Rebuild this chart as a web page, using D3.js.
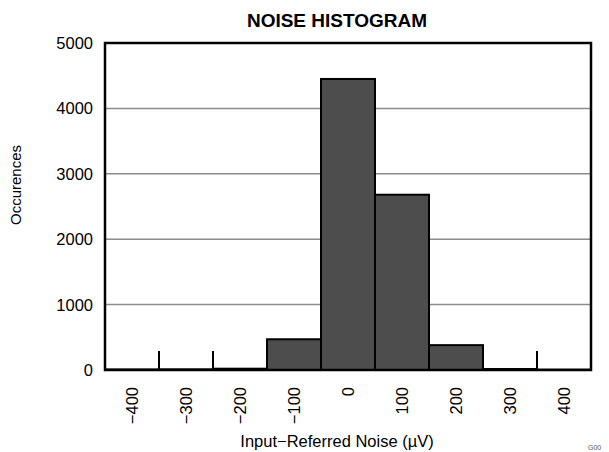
<!DOCTYPE html>
<html lang="en">
<head>
<meta charset="UTF-8">
<title>Noise Histogram</title>
<script src="https://d3js.org/d3.v7.min.js"></script>
<style>
    body { margin: 0; background: #fff; }
    svg text { font-family: "Liberation Sans", Arial, sans-serif; fill: #000; }
</style>
</head>
<body>
<div id="chart"></div>
<script>
// histogram bins (bin centres, µV) and counts
const binCenters = [-400, -300, -200, -100, 0, 100, 200, 300, 400];
const counts = [8, 10, 20, 470, 4450, 2680, 380, 15, 5];
const yTicks = [0, 1000, 2000, 3000, 4000, 5000];
const binWidth = 100;

const width = 609, height = 452;
const margin = { left: 105, right: 18, top: 43, bottom: 82 };

const svg = d3.select("#chart").append("svg")
    .attr("width", width)
    .attr("height", height);

const x = d3.scaleLinear()
    .domain([-450, 450])
    .range([margin.left, width - margin.right]);

const y = d3.scaleLinear()
    .domain([0, 5000])
    .range([height - margin.bottom, margin.top]);

// grid lines
svg.append("g")
    .selectAll("line")
    .data(yTicks.filter(d => d > 0 && d < 5000))
    .join("line")
    .attr("x1", x.range()[0])
    .attr("x2", x.range()[1])
    .attr("y1", d => y(d))
    .attr("y2", d => y(d))
    .attr("stroke", "#8c8c8c")
    .attr("stroke-width", 1.5);

// inward ticks at bin edges
const edges = binCenters.slice(1).map(d => d - binWidth / 2);
svg.append("g")
    .selectAll("line")
    .data(edges)
    .join("line")
    .attr("x1", d => x(d))
    .attr("x2", d => x(d))
    .attr("y1", y(0))
    .attr("y2", y(0) - 19)
    .attr("stroke", "#000")
    .attr("stroke-width", 2);

// bars
svg.append("g")
    .selectAll("rect")
    .data(binCenters)
    .join("rect")
    .attr("x", d => x(d - binWidth / 2))
    .attr("width", d => x(d + binWidth / 2) - x(d - binWidth / 2))
    .attr("y", (d, i) => y(counts[i]))
    .attr("height", (d, i) => y(0) - y(counts[i]))
    .attr("fill", "#4d4d4d")
    .attr("stroke", "#000")
    .attr("stroke-width", 2);

// frame
svg.append("rect")
    .attr("x", x.range()[0])
    .attr("y", y.range()[1])
    .attr("width", x.range()[1] - x.range()[0])
    .attr("height", y.range()[0] - y.range()[1])
    .attr("fill", "none")
    .attr("stroke", "#000")
    .attr("stroke-width", 2.5);

// y tick labels
svg.append("g")
    .selectAll("text")
    .data(yTicks)
    .join("text")
    .attr("x", margin.left - 12)
    .attr("y", d => y(d))
    .attr("dy", "0.36em")
    .attr("text-anchor", "end")
    .style("font-size", "16.5px")
    .text(d => d);

// x tick labels, rotated
const fmt = d => d < 0 ? "\u2212" + Math.abs(d) : String(d);
svg.append("g")
    .selectAll("text")
    .data(binCenters)
    .join("text")
    .attr("transform", d => `translate(${x(d)},${y(0) + 17}) rotate(-90)`)
    .attr("dy", "0.36em")
    .attr("text-anchor", "end")
    .style("font-size", "16.5px")
    .text(fmt);

// titles
svg.append("text")
    .attr("x", 337)
    .attr("y", 27)
    .attr("text-anchor", "middle")
    .style("font-size", "19px")
    .style("font-weight", "bold")
    .text("NOISE HISTOGRAM");

svg.append("text")
    .attr("x", 337)
    .attr("y", 447)
    .attr("text-anchor", "middle")
    .style("font-size", "16.5px")
    .text("Input\u2212Referred Noise (\u00b5V)");

svg.append("text")
    .attr("transform", "translate(21,185) rotate(-90)")
    .attr("text-anchor", "middle")
    .style("font-size", "15px")
    .text("Occurences");

svg.append("text")
    .attr("x", 588)
    .attr("y", 450)
    .style("font-size", "7px")
    .style("fill", "#555")
    .text("G00");
</script>
</body>
</html>
